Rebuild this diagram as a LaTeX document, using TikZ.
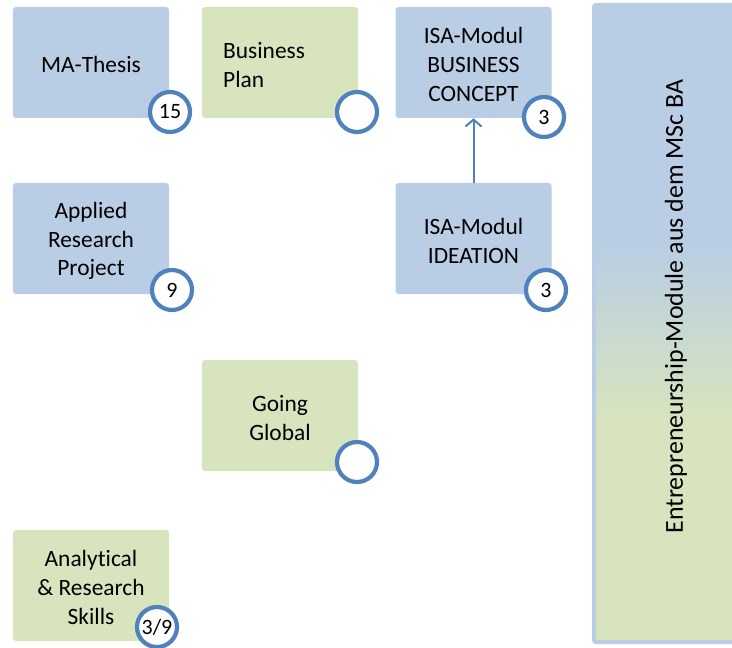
\documentclass[tikz,border=0pt]{standalone}
\usepackage{fontspec}
\setmainfont{Carlito}[Ligatures=NoCommon]
\usetikzlibrary{arrows.meta}
\definecolor{boxblue}{HTML}{B9CDE5}
\definecolor{boxgreen}{HTML}{D7E4BD}
\definecolor{ringblue}{HTML}{4F81BD}
\begin{document}
\begin{tikzpicture}[x=1bp,y=-1bp,
  mod/.style={rounded corners=3bp, minimum width=156bp, minimum height=111bp, inner sep=0pt, align=center, font=\fontsize{23.5}{28.7}\selectfont},
  bluemod/.style={mod, fill=boxblue},
  greenmod/.style={mod, fill=boxgreen},
  badge/.style={circle, draw=ringblue, line width=4.2bp, fill=white, minimum size=40bp, inner sep=0pt, font=\fontsize{22}{23}\selectfont},
  txt/.style={inner sep=0pt, font=\fontsize{23.5}{28.7}\selectfont},
]
\useasboundingbox (0,0) rectangle (732,648);

% right panel
\fill[boxblue] (594,5) rectangle (740,240);
\shade[top color=boxblue, bottom color=boxgreen] (594,239) rectangle (740,421);
\fill[boxgreen] (594,420) rectangle (740,642);
\draw[boxblue, line width=4bp, rounded corners=2bp] (594,5) rectangle (745,642);
\node[inner sep=0pt, font=\fontsize{26}{30}\selectfont, rotate=90] (paneltext) at (676,306.5) {Entrepreneurship-Module aus dem MSc BA};

% modules
\node[bluemod] (thesis) at (91,62.5) {};
\node[txt] (thesistext) at (91,64) {MA-Thesis};
\node[greenmod] (plan) at (280,62.5) {};
\node[txt, anchor=west, align=left] (plantext) at (223,65) {Business\\Plan};
\node[bluemod] (concept) at (473.5,62.5) {};
\node[txt, align=center] (concepttext) at (473.5,64.5) {ISA-Modul\\BUSINESS\\CONCEPT};
\node[bluemod] (applied) at (91,238.5) {};
\node[txt, align=center] (appliedtext) at (91,241) {Applied\\Research\\Project};
\node[bluemod] (ideation) at (473.5,238.5) {};
\node[txt, align=center] (ideationtext) at (473.5,241) {ISA-Modul\\IDEATION};
\node[greenmod] (global) at (280,415.5) {};
\node[txt, align=center] (globaltext) at (280,418) {Going\\Global};
\node[greenmod] (skills) at (91,585.5) {};
\node[txt, align=center] (skillstext) at (91,587.5) {Analytical\\\& Research\\Skills};

% arrow
\draw[ringblue, line width=2bp, -{Straight Barb[length=7bp,width=16bp]}] (ideation.north) -- (concept.south);

% badges
\node[badge] (b1) at (170,112) {15};
\node[badge] (b2) at (357,112) {};
\node[badge] (b3) at (544,117) {3};
\node[badge] (b4) at (172,290) {9};
\node[badge] (b5) at (546,290) {3};
\node[badge] (b6) at (357,462) {};
\node[badge] (b7) at (157,627) {3/9};
\end{tikzpicture}
\end{document}
